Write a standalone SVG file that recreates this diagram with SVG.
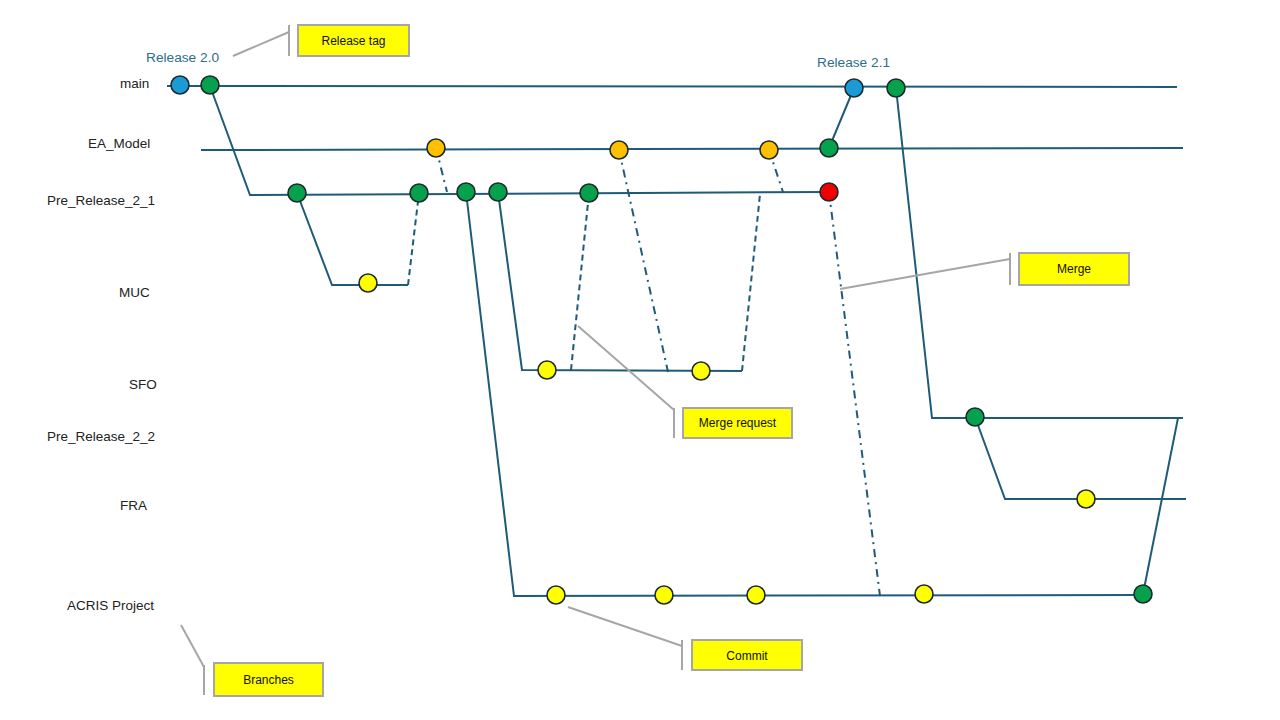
<svg xmlns="http://www.w3.org/2000/svg" width="1280" height="720" viewBox="0 0 1280 720">
<style>
.br{stroke:#1F5B78;stroke-width:2;fill:none;stroke-linecap:butt}
.dash{stroke:#1F5B78;stroke-width:2;fill:none;stroke-dasharray:6 4}
.dd{stroke:#1F5B78;stroke-width:2;fill:none;stroke-dasharray:8 5 2 5}
.c{stroke:#1B2B2B;stroke-width:1.6}
.blue{fill:#1C9AD6}
.green{fill:#06A14C}
.orange{fill:#FFC000}
.yellow{fill:#FFFF00}
.red{fill:#F00000}
.lbl{font-family:"Liberation Sans","Open Sans",sans-serif;font-size:13.5px;fill:#222222}
.rel{font-family:"Liberation Sans","Open Sans",sans-serif;font-size:13.7px;fill:#2D6E8C}
.box{fill:#FFFF00;stroke:#A6A6A6;stroke-width:2}
.lead{stroke:#A6A6A6;stroke-width:2;fill:none}
.bt{font-family:"Liberation Sans","Open Sans",sans-serif;font-size:12px;fill:#111111;text-anchor:middle}
</style>

<g id="branch-labels">
<text class="lbl" x="120" y="88">main</text>
<text class="lbl" x="88" y="148">EA_Model</text>
<text class="lbl" x="47" y="205">Pre_Release_2_1</text>
<text class="lbl" x="119" y="297">MUC</text>
<text class="lbl" x="129" y="389">SFO</text>
<text class="lbl" x="47" y="441">Pre_Release_2_2</text>
<text class="lbl" x="120" y="510">FRA</text>
<text class="lbl" x="67" y="610">ACRIS Project</text>
<text class="rel" x="146" y="62">Release 2.0</text>
<text class="rel" x="817" y="67">Release 2.1</text>
</g>

<g id="connectors">
<line class="br" x1="167" y1="86" x2="1177" y2="87"/>
<line class="br" x1="201" y1="150" x2="1183" y2="148"/>
<polyline class="br" points="210,86 250,195 829,192"/>
<polyline class="br" points="297,193 332,285 408,285"/>
<line class="dash" x1="408" y1="285" x2="419" y2="193"/>
<polyline class="br" points="498,192 522,370 742,371"/>
<line class="dash" x1="571" y1="370" x2="589" y2="193"/>
<line class="dash" x1="742" y1="371" x2="760" y2="194"/>
<polyline class="br" points="466,192 514,596 1143,595"/>
<line class="dd" x1="436" y1="148" x2="447" y2="192"/>
<line class="dd" x1="619" y1="150" x2="668" y2="372"/>
<line class="dd" x1="769" y1="150" x2="783" y2="192"/>
<line class="dd" x1="829" y1="192" x2="880" y2="596"/>
<line class="br" x1="829" y1="148" x2="854" y2="88"/>
<polyline class="br" points="896,88 932,418 1183,418"/>
<polyline class="br" points="975,417 1005,499 1186,499"/>
<line class="br" x1="1178" y1="418" x2="1143" y2="594"/>
</g>

<g id="commits">
<circle class="c blue" cx="180" cy="85" r="9"/>
<circle class="c green" cx="210" cy="85" r="9"/>
<circle class="c blue" cx="854" cy="88" r="9"/>
<circle class="c green" cx="896" cy="88" r="9"/>
<circle class="c orange" cx="436" cy="148" r="9"/>
<circle class="c orange" cx="619" cy="150" r="9"/>
<circle class="c orange" cx="769" cy="150" r="9"/>
<circle class="c green" cx="829" cy="148" r="9"/>
<circle class="c green" cx="297" cy="193" r="9"/>
<circle class="c green" cx="419" cy="193" r="9"/>
<circle class="c green" cx="466" cy="192" r="9"/>
<circle class="c green" cx="498" cy="192" r="9"/>
<circle class="c green" cx="589" cy="193" r="9"/>
<circle class="c red" cx="829" cy="192" r="9"/>
<circle class="c yellow" cx="368" cy="283" r="9"/>
<circle class="c yellow" cx="547" cy="370" r="9"/>
<circle class="c yellow" cx="701" cy="371" r="9"/>
<circle class="c green" cx="975" cy="417" r="9"/>
<circle class="c yellow" cx="1086" cy="499" r="9"/>
<circle class="c yellow" cx="556" cy="595" r="9"/>
<circle class="c yellow" cx="664" cy="595" r="9"/>
<circle class="c yellow" cx="756" cy="595" r="9"/>
<circle class="c yellow" cx="924" cy="594" r="9"/>
<circle class="c green" cx="1143" cy="594" r="9"/>
</g>

<g id="callout-release-tag">
<polyline class="lead" points="233,56 289,32"/>
<line class="lead" x1="289" y1="25" x2="289" y2="56"/>
<rect class="box" x="298" y="25" width="111" height="31"/>
<text class="bt" x="353.5" y="45">Release tag</text>
</g>

<g id="callout-merge">
<polyline class="lead" points="840,289 1010,259"/>
<line class="lead" x1="1010" y1="253" x2="1010" y2="285"/>
<rect class="box" x="1019" y="253" width="110" height="32"/>
<text class="bt" x="1074" y="273">Merge</text>
</g>

<g id="callout-merge-request">
<polyline class="lead" points="578,326 674,410"/>
<line class="lead" x1="674" y1="408" x2="674" y2="438"/>
<rect class="box" x="683" y="408" width="109" height="30"/>
<text class="bt" x="737.5" y="427">Merge request</text>
</g>

<g id="callout-commit">
<polyline class="lead" points="568,607 682,646"/>
<line class="lead" x1="682" y1="640" x2="682" y2="670"/>
<rect class="box" x="692" y="640" width="110" height="30"/>
<text class="bt" x="747" y="660">Commit</text>
</g>

<g id="callout-branches">
<polyline class="lead" points="181,625 204,667"/>
<line class="lead" x1="204" y1="665" x2="204" y2="695"/>
<rect class="box" x="214" y="663" width="109" height="33"/>
<text class="bt" x="268.5" y="684">Branches</text>
</g>
</svg>
